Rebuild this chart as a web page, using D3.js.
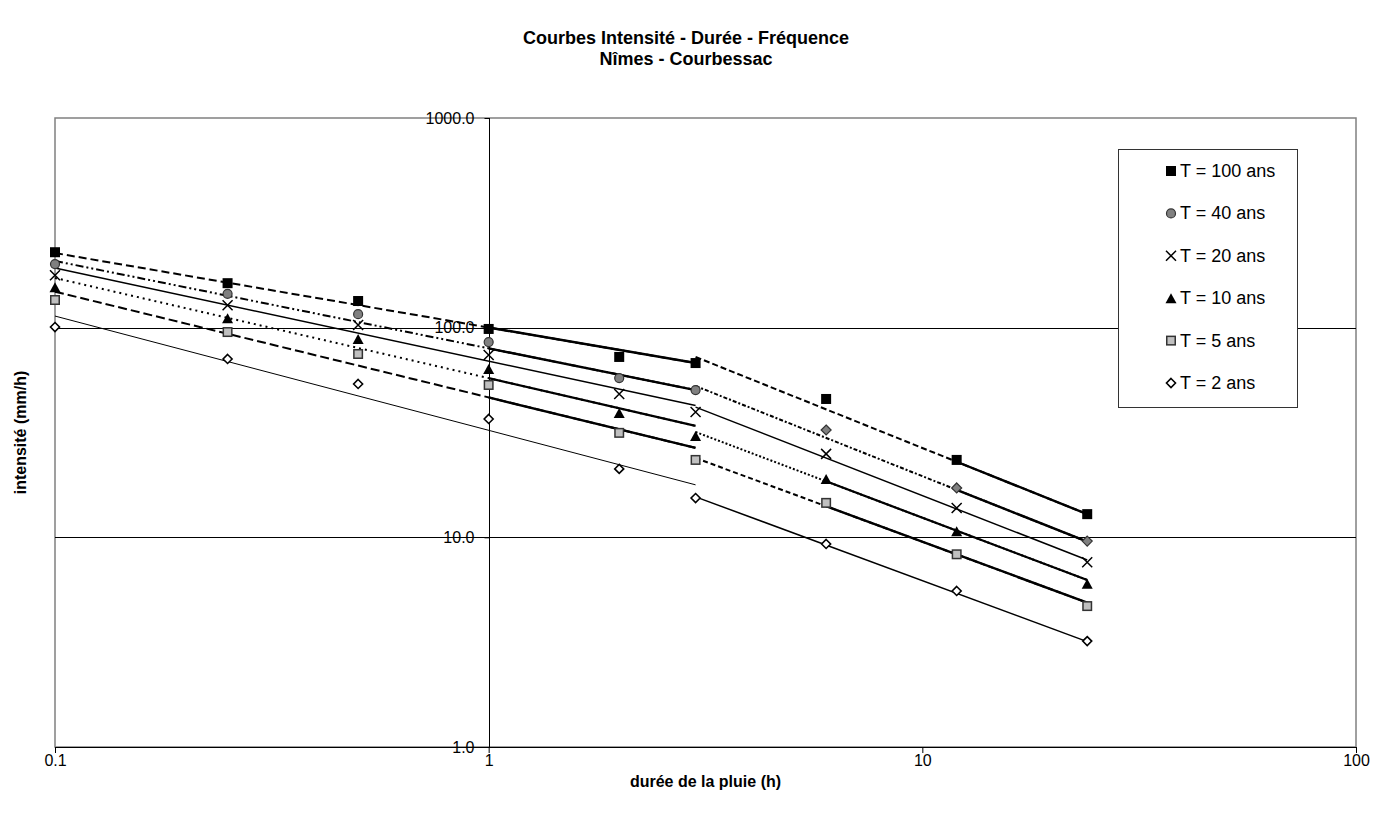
<!DOCTYPE html>
<html><head><meta charset="utf-8">
<script src="https://cdn.jsdelivr.net/npm/d3@7"></script>
<style>
html,body{margin:0;padding:0;background:#fff;}
svg{display:block;font-family:"Liberation Sans",Arial,sans-serif;}
</style></head>
<body>
<svg id="c" width="1374" height="819"></svg>
<script>
// ---- data ----
const durations = [0.1, 0.25, 0.5, 1, 2, 3, 6, 12, 24];
const seriesNames = ["T = 100 ans", "T = 40 ans", "T = 20 ans", "T = 10 ans", "T = 5 ans", "T = 2 ans"];
const t100 = [229, 163, 134, 98.6, 72.5, 67.8, 45.7, 23.4, 12.9];
const t40  = [201, 145, 116, 85.4, 57.5, 50.4, 32.5, 17.2, 9.6];
const t20  = [178, 128, 103, 74, 48.3, 39.6, 25, 13.8, 7.6];
const t10  = [156, 111, 88.3, 63.5, 39.2, 30.4, 19, 10.7, 6.0];
const t5   = [135.5, 95.3, 74.9, 53.3, 31.5, 23.4, 14.6, 8.3, 4.7];
const t2   = [100.7, 70.9, 53.9, 36.7, 21.2, 15.4, 9.3, 5.55, 3.2];
// fitted curves (power law) : short durations 0.1 h -> 3 h, long durations 3 h -> 24 h
const fitShortRange = [0.1, 3];
const fitLongRange = [3, 24];
const fitShort = [[227, 67.8], [208, 50.4], [192.6, 42.5], [172.6, 34.0], [148.5, 26.7], [113.6, 17.8]];
const fitLong  = [[72.5, 12.9], [52.7, 9.53], [41.8, 7.8], [31.8, 6.26], [23.9, 4.88], [15.6, 3.18]];
const xTicks = [0.1, 1, 10, 100];
const yTicks = [1, 10, 100, 1000];

const values = [t100, t40, t20, t10, t5, t2];

// ---- styles ----
const styles = [
  {marker:"sqBlack",  dash1:"8,4", w1:2, dash2:"6,3", w2:2, solid1From:1, solid2From:12, sw:2.4},
  {marker:"circGray", dash1:"8,3,2,3,2,3", w1:2, dash2:"4,2,2,2", w2:2, solid1From:1, solid2From:12, sw:2.4},
  {marker:"cross",    dash1:null, w1:1.5, dash2:null, w2:1.5, solid1From:null, solid2From:null, sw:1.5},
  {marker:"tri",      dash1:"2,4", w1:2, dash2:"2,2", w2:2, solid1From:1, solid2From:6, sw:2.2},
  {marker:"sqLight",  dash1:"9,4", w1:2, dash2:"5,3", w2:2, solid1From:1, solid2From:6, sw:2.4},
  {marker:"diaWhite", dash1:null, w1:1, dash2:null, w2:1.5, solid1From:null, solid2From:null, sw:1}
];

const svg = d3.select("#c");
const L = 55, R = 1356, T = 118, B = 747;
const x = d3.scaleLog().domain([0.1, 100]).range([L, R]);
const y = d3.scaleLog().domain([1, 1000]).range([B, T]);

// titles
svg.append("text").attr("x", 686).attr("y", 44).attr("text-anchor", "middle")
  .attr("font-weight", "bold").attr("font-size", 18).text("Courbes Intensité - Durée - Fréquence");
svg.append("text").attr("x", 686).attr("y", 65).attr("text-anchor", "middle")
  .attr("font-weight", "bold").attr("font-size", 18).text("Nîmes - Courbessac");

// plot frame
const g = svg.append("g");
g.append("rect").attr("x", L).attr("y", T).attr("width", R - L).attr("height", B - T)
  .attr("fill", "none").attr("stroke", "#808080").attr("stroke-width", 1.5);
// horizontal gridlines
g.selectAll("line.grid").data(yTicks.filter(v => v > 1 && v < 1000)).join("line")
  .attr("x1", L).attr("x2", R).attr("y1", d => Math.round(y(d)) + 0.5).attr("y2", d => Math.round(y(d)) + 0.5)
  .attr("stroke", "#000").attr("stroke-width", 1);

// x axis
const xAxis = d3.axisBottom(x).tickValues(xTicks).tickFormat(d => String(d)).tickSize(6).tickPadding(2);
const xg = svg.append("g").attr("transform", `translate(0,${B})`).call(xAxis);
xg.select(".domain").attr("stroke", "#000");
xg.selectAll("text").attr("font-size", 16).attr("font-family", "Liberation Sans, Arial, sans-serif").attr("fill", "#000");

// y axis at x = 1
const yAxis = d3.axisLeft(y).tickValues(yTicks).tickFormat(d3.format(".1f")).tickSize(5).tickPadding(10);
const yg = svg.append("g").attr("transform", `translate(${Math.round(x(1)) + 0.5},0)`).call(yAxis);
yg.select(".domain").attr("stroke", "#000").attr("d", `M0,${T}V${B}`);
yg.selectAll("text").attr("font-size", 16).attr("font-family", "Liberation Sans, Arial, sans-serif").attr("fill", "#000");

// axis titles
svg.append("text").attr("x", (L + R) / 2).attr("y", 787).attr("text-anchor", "middle")
  .attr("font-weight", "bold").attr("font-size", 16).text("durée de la pluie (h)");
svg.append("text").attr("transform", `translate(26,${(T + B) / 2}) rotate(-90)`).attr("text-anchor", "middle")
  .attr("font-weight", "bold").attr("font-size", 16).text("intensité (mm/h)");

// fitted lines
function powerPts(range, ends, from) {
  const t0 = range[0], t1 = range[1];
  const b = Math.log(ends[1] / ends[0]) / Math.log(t1 / t0);
  const f = t => ends[0] * Math.pow(t / t0, b);
  const s = from == null ? t0 : from;
  return [[s, f(s)], [t1, f(t1)]];
}
const line = d3.line().x(d => x(d[0])).y(d => y(d[1]));
const lg = svg.append("g").attr("fill", "none").attr("stroke", "#000");
styles.forEach((st, i) => {
  lg.append("path").attr("d", line(powerPts(fitShortRange, fitShort[i])))
    .attr("stroke-width", st.w1).attr("stroke-dasharray", st.dash1);
  if (st.solid1From != null) lg.append("path").attr("d", line(powerPts(fitShortRange, fitShort[i], st.solid1From)))
    .attr("stroke-width", st.sw);
  lg.append("path").attr("d", line(powerPts(fitLongRange, fitLong[i])))
    .attr("stroke-width", st.w2).attr("stroke-dasharray", st.dash2);
  if (st.solid2From != null) lg.append("path").attr("d", line(powerPts(fitLongRange, fitLong[i], st.solid2From)))
    .attr("stroke-width", st.sw);
});

// markers
function drawMarker(sel, type, cx, cy, s) {
  const h = s / 2;
  if (type === "sqBlack") sel.append("rect").attr("x", cx - h).attr("y", cy - h).attr("width", s).attr("height", s).attr("fill", "#000");
  else if (type === "sqLight") sel.append("rect").attr("x", cx - h + 0.75).attr("y", cy - h + 0.75).attr("width", s - 1.5).attr("height", s - 1.5)
    .attr("fill", "#c0c0c0").attr("stroke", "#333").attr("stroke-width", 1.5);
  else if (type === "circGray") sel.append("circle").attr("cx", cx).attr("cy", cy).attr("r", h - 0.5)
    .attr("fill", "#808080").attr("stroke", "#333").attr("stroke-width", 1.2);
  else if (type === "diaGray") sel.append("path").attr("d", `M${cx},${cy - h}L${cx + h},${cy}L${cx},${cy + h}L${cx - h},${cy}Z`)
    .attr("fill", "#808080").attr("stroke", "#333").attr("stroke-width", 1.2);
  else if (type === "diaWhite") sel.append("path").attr("d", `M${cx},${cy - h + 0.5}L${cx + h - 0.5},${cy}L${cx},${cy + h - 0.5}L${cx - h + 0.5},${cy}Z`)
    .attr("fill", "#fff").attr("stroke", "#000").attr("stroke-width", 1.6);
  else if (type === "tri") sel.append("path").attr("d", `M${cx},${cy - h}L${cx + h + 0.5},${cy + h}L${cx - h - 0.5},${cy + h}Z`).attr("fill", "#000");
  else if (type === "cross") sel.append("path").attr("d", `M${cx - h},${cy - h}L${cx + h},${cy + h}M${cx + h},${cy - h}L${cx - h},${cy + h}`)
    .attr("stroke", "#000").attr("stroke-width", 1.5).attr("fill", "none");
}
const mg = svg.append("g");
values.forEach((vals, i) => {
  vals.forEach((v, j) => {
    let type = styles[i].marker;
    if (type === "circGray" && durations[j] > 3) type = "diaGray";
    drawMarker(mg, type, x(durations[j]), y(v), 10);
  });
});

// legend
const lx = 1118, ly = 149;
svg.append("rect").attr("x", lx + 0.5).attr("y", ly + 0.5).attr("width", 179).attr("height", 258)
  .attr("fill", "#fff").attr("stroke", "#333").attr("stroke-width", 1);
seriesNames.forEach((name, i) => {
  const cy = 171 + i * 42.4;
  drawMarker(svg, styles[i].marker, 1171, cy, 10);
  svg.append("text").attr("x", 1180).attr("y", cy + 6).attr("font-size", 18).text(name);
});
</script>
</body></html>
